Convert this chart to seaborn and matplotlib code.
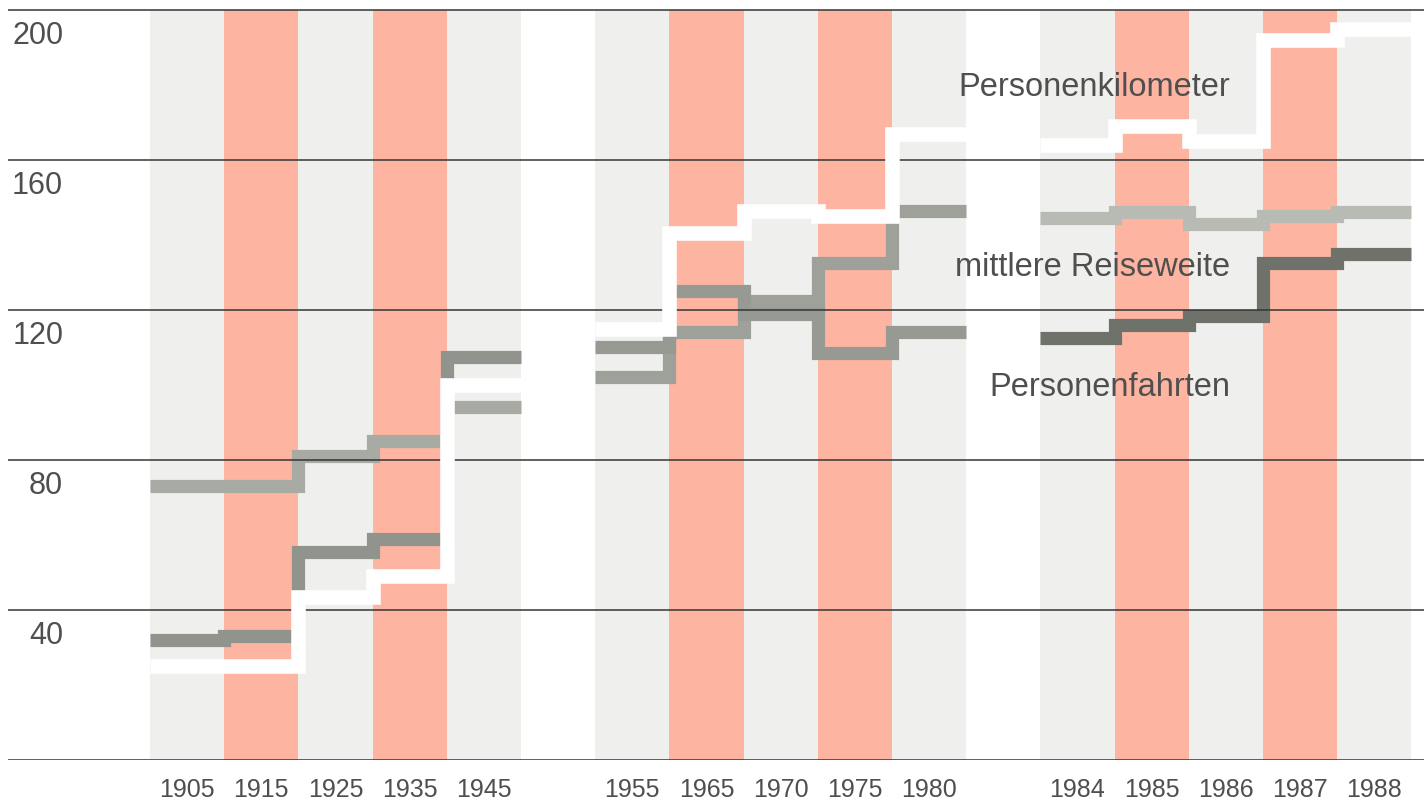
import matplotlib
matplotlib.use("Agg")
import matplotlib.pyplot as plt
import seaborn as sns
import pandas as pd
import numpy as np

# Data (index values)
years = ["1905", "1915", "1925", "1935", "1945",
         "1955", "1965", "1970", "1975", "1980",
         "1984", "1985", "1986", "1987", "1988"]
year_group = [0, 0, 0, 0, 0, 1, 1, 1, 1, 1, 2, 2, 2, 2, 2]
personenkilometer = [25, 25, 43.5, 49, 100, 115, 140.5, 146.5, 145, 167, 164, 169, 165, 192, 195]
reiseweite = [73, 73, 81, 85, 94, 102, 114, 122.5, 132.5, 146.5, 144.5, 146, 143, 145, 146]
personenfahrten = [32, 33, 55.5, 59, 107.5, 110, 125, 119, 108.5, 114, 112.5, 116, 118.5, 132.5, 135]
y_ticks = [40, 80, 120, 160, 200]

series_names = ["Personenkilometer", "mittlere Reiseweite", "Personenfahrten"]
series_values = [personenkilometer, reiseweite, personenfahrten]

# Styles
band_grey = "#efefed"
band_salmon = "#fdb4a1"
grey_palettes = [
    {"mittlere Reiseweite": "#a8aba4", "Personenfahrten": "#90948c"},
    {"mittlere Reiseweite": "#9ea19a", "Personenfahrten": "#979a93"},
    {"mittlere Reiseweite": "#b8bbb3", "Personenfahrten": "#6f726b"},
]
text_col = "#4f4f4f"

sns.set_theme(style="white")
plt.rcParams["font.family"] = ["Liberation Sans", "DejaVu Sans"]

fig = plt.figure(figsize=(14.24, 8.05), dpi=100)
ax = fig.add_axes([0, 45 / 805, 1, 760 / 805])
ax.set_facecolor("white")

# one empty slot between the three year groups
slot = np.arange(len(years)) + np.array(year_group)
pos_in_group = [i - year_group.index(g) for i, g in enumerate(year_group)]

# background bands
band_cols = [band_grey if p % 2 == 0 else band_salmon for p in pos_in_group]
ax.bar(slot + 0.5, 200, width=1.0, color=band_cols, linewidth=0, zorder=1)

# long table for step lines (left edges + closing right edge per group)
rows = []
for g in range(3):
    idx = [i for i, gg in enumerate(year_group) if gg == g]
    edges = list(slot[idx]) + [slot[idx[-1]] + 1]
    for name, vals in zip(series_names, series_values):
        vv = [vals[i] for i in idx] + [vals[idx[-1]]]
        for e, v in zip(edges, vv):
            rows.append({"x": e, "value": v, "series": name, "group": g})
df = pd.DataFrame(rows)

for g in range(3):
    sub = df[(df["group"] == g) & (df["series"] != "Personenkilometer")]
    sns.lineplot(data=sub, x="x", y="value", hue="series", palette=grey_palettes[g],
                 estimator=None, sort=False, drawstyle="steps-post", linewidth=9.5,
                 legend=False, ax=ax, zorder=2,
                 solid_capstyle="butt", solid_joinstyle="miter")
    white = df[(df["group"] == g) & (df["series"] == "Personenkilometer")]
    sns.lineplot(data=white, x="x", y="value", color="white",
                 estimator=None, sort=False, drawstyle="steps-post", linewidth=10.5,
                 legend=False, ax=ax, zorder=4,
                 solid_capstyle="butt", solid_joinstyle="miter")

x_left, x_right = -150 / 74.2, (1424 - 150) / 74.2
ax.set_xlim(x_left, x_right)
ax.set_ylim(0, 760 * 40 / 150)

# horizontal rules
ax.hlines([0] + y_ticks, xmin=-1.91, xmax=x_right, color="#353535", linewidth=1.1, zorder=3)

# y labels sit just below their rule
for v in y_ticks:
    ax.text(-1.17, v - 7, str(v), ha="right", va="center", fontsize=22, color=text_col)

# series labels
ax.text(14.56, 179.2, "Personenkilometer", ha="right", va="center", fontsize=23.5, color=text_col, zorder=5)
ax.text(14.56, 131.2, "mittlere Reiseweite", ha="right", va="center", fontsize=23.5, color=text_col, zorder=5)
ax.text(14.56, 99.2, "Personenfahrten", ha="right", va="center", fontsize=23.5, color=text_col, zorder=5)

ax.set_xticks(slot + 0.5)
ax.set_xticklabels(years)
ax.set_yticks([])
ax.tick_params(axis="x", length=0, pad=13, labelsize=18, labelcolor=text_col)
ax.set_xlabel("")
ax.set_ylabel("")
for s in ax.spines.values():
    s.set_visible(False)

fig.savefig("out.png", dpi=100)
